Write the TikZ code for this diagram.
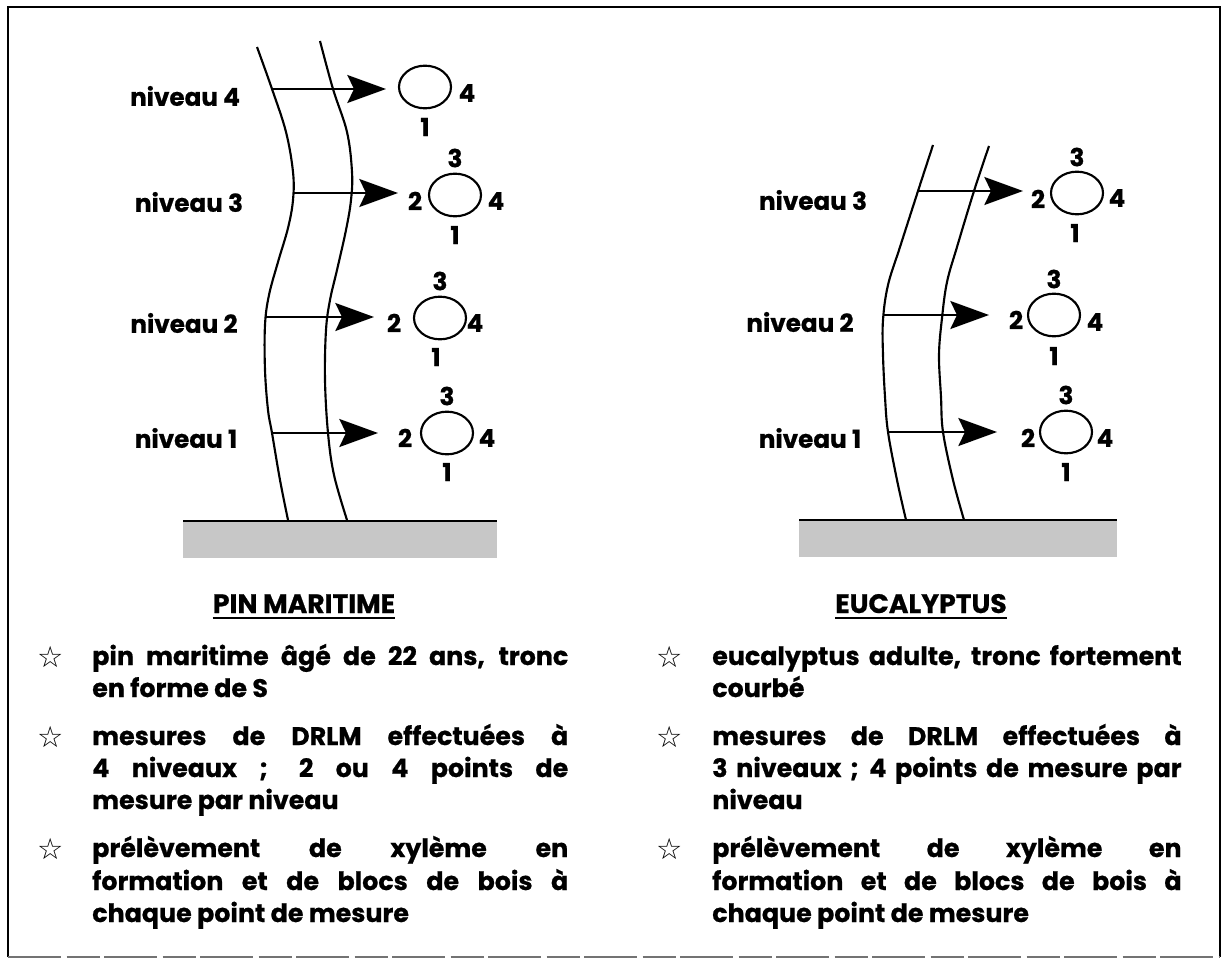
\documentclass[tikz,border=0pt]{standalone}
\usepackage{fontspec}
\setmainfont{Poppins}[BoldFeatures={FakeBold=0.7}]
\newfontfamily\symfont{DejaVu Sans}
\usetikzlibrary{arrows.meta,shapes.geometric}

\begin{document}
\begin{tikzpicture}[x=0.75pt,y=-0.75pt,
  trunk/.style={line width=1.6pt,line join=round},
  arr/.style={line width=1.4pt,-{Stealth[length=29pt,width=21pt,inset=5pt]}},
  ring/.style={draw,ellipse,line width=1.6pt,inner sep=0pt,minimum width=39pt,minimum height=32pt},
  lbl/.style={font=\fontsize{18.5}{18.5}\selectfont\bfseries,inner sep=0pt},
  num/.style={font=\fontsize{18.5}{18.5}\selectfont\bfseries,inner sep=0pt},
  body/.style={font=\fontsize{19}{24}\selectfont\bfseries,inner sep=0pt},
  ttl/.style={font=\fontsize{20}{20}\selectfont\bfseries,inner sep=0pt},
  bullet/.style={font=\symfont\fontsize{22}{22}\selectfont,inner sep=0pt},
  ground/.style={fill=black!22},
  groundline/.style={line width=1.8pt},
  frame/.style={line width=2.2pt}]

\useasboundingbox (0,0) rectangle (1227,960);

% outer frame
\draw[frame] (8,957) -- (8,7) -- (1220,7) -- (1220,957);
\draw[line width=1.2pt,black!55,dash pattern=on 40pt off 4pt on 25pt off 3pt] (8,957) -- (1220,957);

% ================= left tree : pin maritime =================
\fill[ground] (183,521) rectangle (497,558);
\draw[groundline] (183,521) -- (497,521);

\draw[trunk] plot[smooth,tension=0.6] coordinates {(257,47) (272,89) (286,132) (293,172) (293,200) (288,228) (278,262) (269,295) (265,325) (265,370) (268,410) (272,433) (280,480) (288,520)};
\draw[trunk] plot[smooth,tension=0.6] coordinates {(320,41) (333,89) (347,132) (352,172) (351,200) (346,230) (337,270) (330,300) (326,330) (325,380) (328,433) (334,475) (347,520)};

% measuring levels
\coordinate (pa4) at (272,89);  \coordinate (pt4) at (386,89);
\coordinate (pa3) at (293,193); \coordinate (pt3) at (398,193);
\coordinate (pa2) at (266,317); \coordinate (pt2) at (374,317);
\coordinate (pa1) at (272,433); \coordinate (pt1) at (378,433);
\draw[arr] (pa4) -- (pt4);
\draw[arr] (pa3) -- (pt3);
\draw[arr] (pa2) -- (pt2);
\draw[arr] (pa1) -- (pt1);

\node[lbl] (pn4) at (185,96)  {niveau 4};
\node[lbl] (pn3) at (189,202) {niveau 3};
\node[lbl] (pn2) at (184,323) {niveau 2};
\node[lbl] (pn1) at (186,438) {niveau 1};

% sections with their measuring points
\node[ring] (pc4) at (425,87) {};
\node[num] at ([shift={(42,6)}]pc4.center) {4};
\node[num] at ([shift={(0,40)}]pc4.center) {1};

\node[ring] (pc3) at (455,195) {};
\node[num] at ([shift={(0,-37)}]pc3.center) {3};
\node[num] at ([shift={(-40,6)}]pc3.center) {2};
\node[num] at ([shift={(41,6)}]pc3.center) {4};
\node[num] at ([shift={(0,40)}]pc3.center) {1};

\node[ring] (pc2) at (440,318) {};
\node[num] at ([shift={(0,-37)}]pc2.center) {3};
\node[num] at ([shift={(-46,5)}]pc2.center) {2};
\node[num] at ([shift={(35,5)}]pc2.center) {4};
\node[num] at ([shift={(-4,39)}]pc2.center) {1};

\node[ring] (pc1) at (447,433) {};
\node[num] at ([shift={(0,-37)}]pc1.center) {3};
\node[num] at ([shift={(-42,5)}]pc1.center) {2};
\node[num] at ([shift={(40,5)}]pc1.center) {4};
\node[num] at ([shift={(0,39)}]pc1.center) {1};

% ================= right tree : eucalyptus =================
\fill[ground] (799,520) rectangle (1117,557);
\draw[groundline] (799,520) -- (1117,520);

\draw[trunk] plot[smooth,tension=0.6] coordinates {(933,145) (918,191) (900,247) (888,285) (883,320) (883,355) (885,397) (888,432) (897,480) (906,520)};
\draw[trunk] plot[smooth,tension=0.6] coordinates {(989,146) (974,191) (957,247) (947,282) (942,318) (939,355) (941,397) (943,432) (953,480) (964,520)};

\coordinate (ea3) at (918,191); \coordinate (et3) at (1023,191);
\coordinate (ea2) at (884,315); \coordinate (et2) at (989,315);
\coordinate (ea1) at (888,432); \coordinate (et1) at (997,432);
\draw[arr] (ea3) -- (et3);
\draw[arr] (ea2) -- (et2);
\draw[arr] (ea1) -- (et1);

\node[lbl] (en3) at (813,200) {niveau 3};
\node[lbl] (en2) at (800,322) {niveau 2};
\node[lbl] (en1) at (810,438) {niveau 1};

\node[ring] (ec3) at (1077,193) {};
\node[num] at ([shift={(0,-36)}]ec3.center) {3};
\node[num] at ([shift={(-39,6)}]ec3.center) {2};
\node[num] at ([shift={(40,5)}]ec3.center) {4};
\node[num] at ([shift={(-2,40)}]ec3.center) {1};

\node[ring] (ec2) at (1054,315) {};
\node[num] at ([shift={(0,-36)}]ec2.center) {3};
\node[num] at ([shift={(-38,5)}]ec2.center) {2};
\node[num] at ([shift={(41,7)}]ec2.center) {4};
\node[num] at ([shift={(0,41)}]ec2.center) {1};

\node[ring] (ec1) at (1066,432) {};
\node[num] at ([shift={(0,-37)}]ec1.center) {3};
\node[num] at ([shift={(-38,6)}]ec1.center) {2};
\node[num] at ([shift={(39,6)}]ec1.center) {4};
\node[num] at ([shift={(0,40)}]ec1.center) {1};

% ================= captions =================
\node[ttl,anchor=base] (tp) at (304,613) {PIN MARITIME};
\draw[line width=1.7pt] ([yshift=-4pt]tp.base west) -- ([yshift=-4pt]tp.base east);
\node[ttl,anchor=base] (te) at (921,613) {EUCALYPTUS};
\draw[line width=1.7pt] ([yshift=-4pt]te.base west) -- ([yshift=-4pt]te.base east);

% left column
\node[bullet] (sp1) at (51,657) {☆};
\node[bullet] (sp2) at (51,737) {☆};
\node[bullet] (sp3) at (51,849) {☆};
\node[body,anchor=base west] (p1a) at (92,665) {\makebox[357pt][s]{pin maritime âgé de 22 ans, tronc}};
\node[body,anchor=base west] (p1b) at (92,697) {en forme de S};
\node[body,anchor=base west] (p2a) at (92,745) {\makebox[357pt][s]{mesures de DRLM effectuées à}};
\node[body,anchor=base west] (p2b) at (92,777) {\makebox[357pt][s]{4 niveaux ; 2 ou 4 points de}};
\node[body,anchor=base west] (p2c) at (92,809) {mesure par niveau};
\node[body,anchor=base west] (p3a) at (92,857) {\makebox[357pt][s]{prélèvement de xylème en}};
\node[body,anchor=base west] (p3b) at (92,890) {\makebox[357pt][s]{formation et de blocs de bois à}};
\node[body,anchor=base west] (p3c) at (92,922) {chaque point de mesure};

% right column
\node[bullet] (se1) at (670,657) {☆};
\node[bullet] (se2) at (670,737) {☆};
\node[bullet] (se3) at (670,849) {☆};
\node[body,anchor=base west] (e1a) at (712,665) {\makebox[352pt][s]{eucalyptus adulte, tronc fortement}};
\node[body,anchor=base west] (e1b) at (712,697) {courbé};
\node[body,anchor=base west] (e2a) at (712,745) {\makebox[352pt][s]{mesures de DRLM effectuées à}};
\node[body,anchor=base west] (e2b) at (712,777) {\makebox[352pt][s]{3 niveaux ; 4 points de mesure par}};
\node[body,anchor=base west] (e2c) at (712,809) {niveau};
\node[body,anchor=base west] (e3a) at (712,857) {\makebox[352pt][s]{prélèvement de xylème en}};
\node[body,anchor=base west] (e3b) at (712,890) {\makebox[352pt][s]{formation et de blocs de bois à}};
\node[body,anchor=base west] (e3c) at (712,922) {chaque point de mesure};
\end{tikzpicture}
\end{document}
